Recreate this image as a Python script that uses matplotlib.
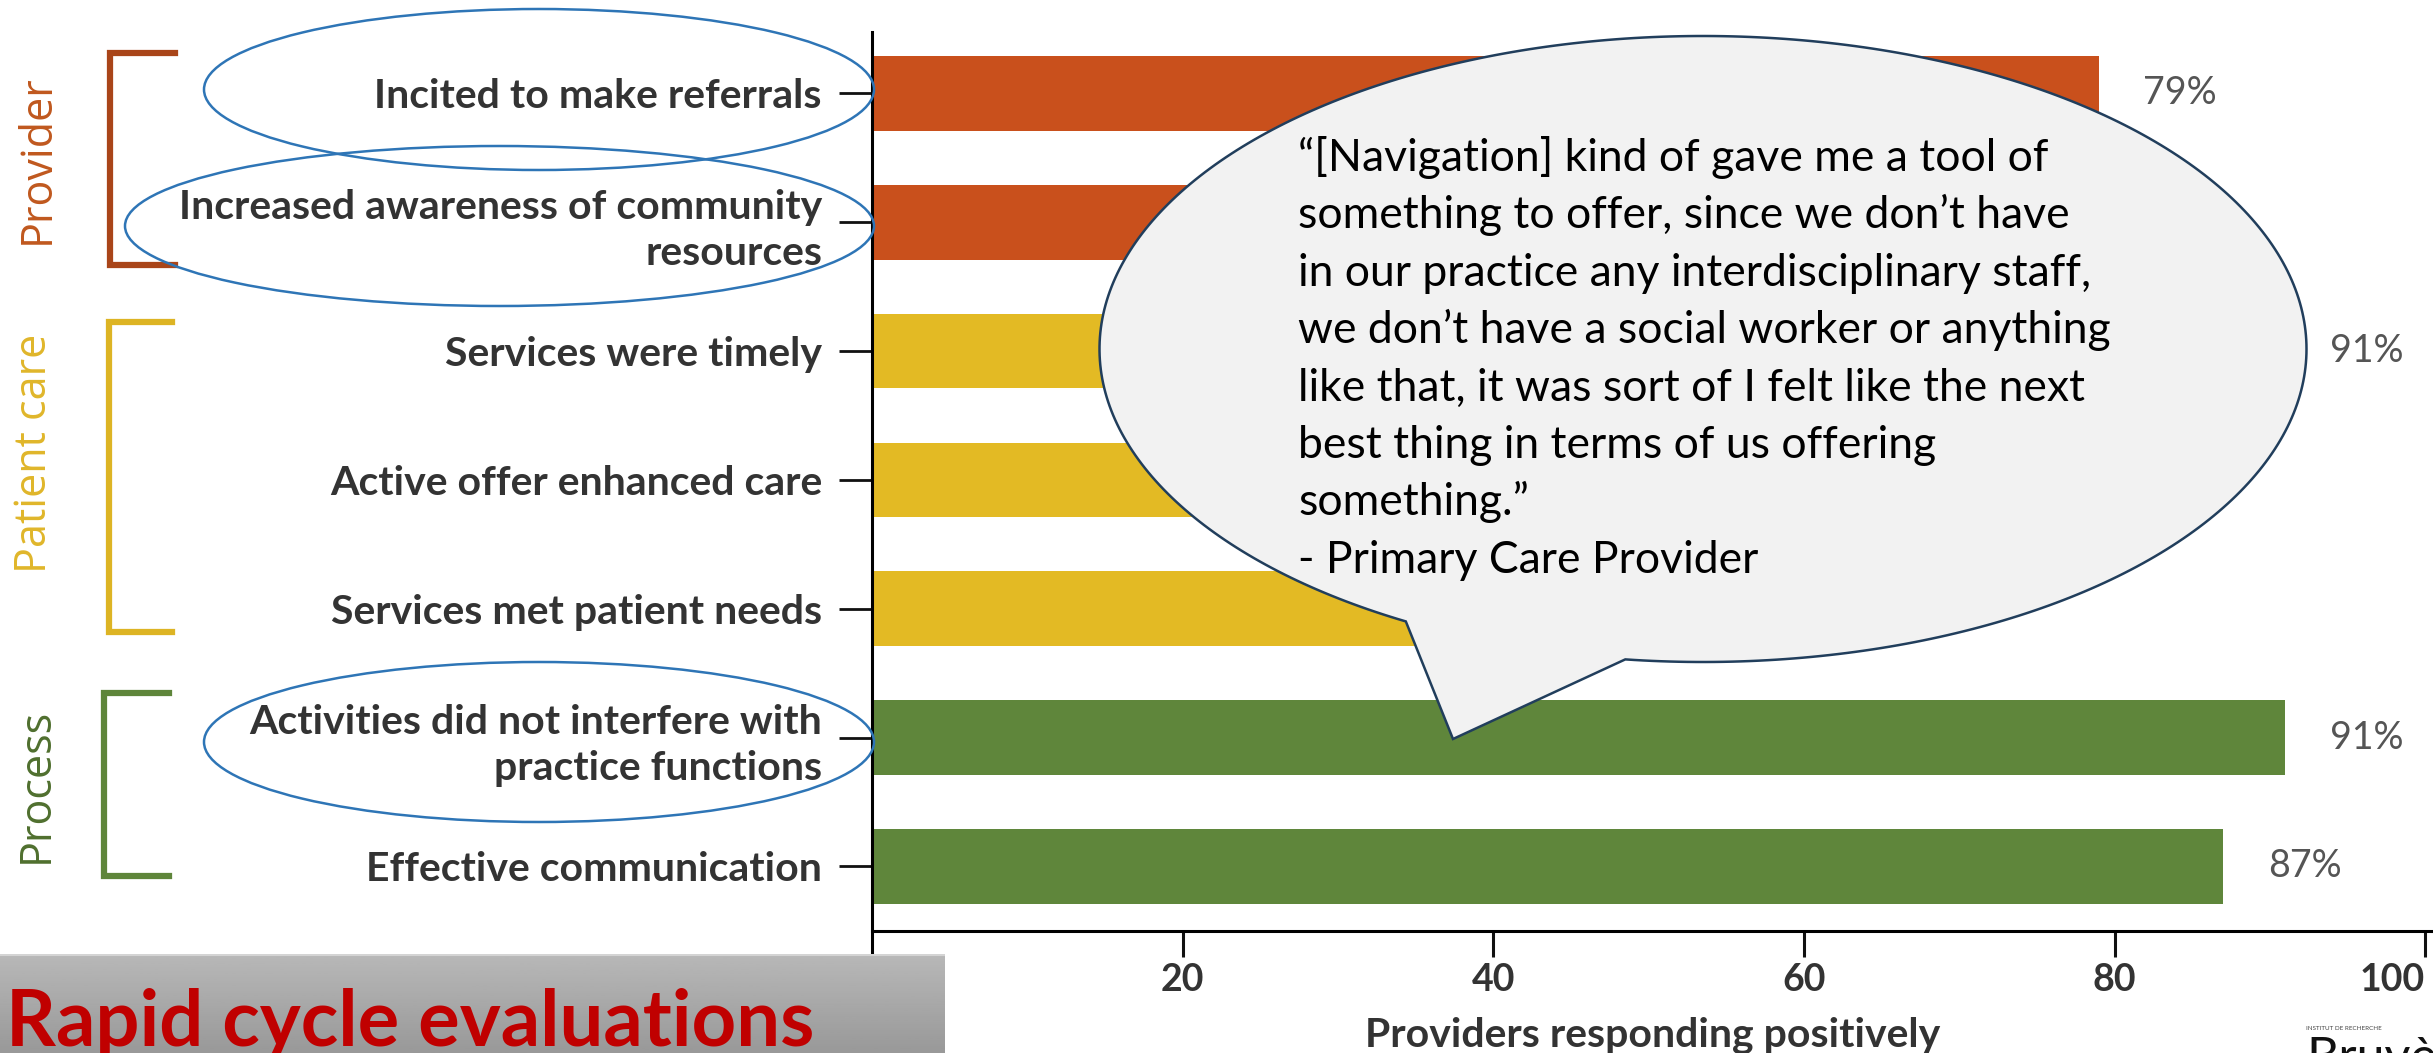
import numpy as np
import matplotlib
matplotlib.use("Agg")
import matplotlib.pyplot as plt
from matplotlib.patches import Ellipse, Polygon
from matplotlib.lines import Line2D
from matplotlib.transforms import Affine2D

# survey results (% of providers responding positively)
categories = [
    "Incited to make referrals",
    "Increased awareness of community\nresources",
    "Services were timely",
    "Active offer enhanced care",
    "Services met patient needs",
    "Activities did not interfere with\npractice functions",
    "Effective communication",
]
values = [79, 76, 91, 72, 62, 91, 87]
groups = ["Provider", "Provider", "Patient care", "Patient care", "Patient care",
          "Process", "Process"]
x_ticks = [20, 40, 60, 80, 100]

bar_colors = {"Provider": "#C9501C", "Patient care": "#E3BA24", "Process": "#5F863B"}
bracket_colors = {"Provider": "#A94519", "Patient care": "#DDB424", "Process": "#5E853A"}
label_colors = {"Provider": "#C0581E", "Patient care": "#E0B62A", "Process": "#4F6F2E"}

quote_lines = [
    "\u201c[Navigation] kind of gave me a tool of",
    "something to offer, since we don\u2019t have",
    "in our practice any interdisciplinary staff,",
    "we don\u2019t have a social worker or anything",
    "like that, it was sort of I felt like the next",
    "best thing in terms of us offering",
    "something.\u201d",
    "- Primary Care Provider",
]

W, H = 2433, 1053
fig = plt.figure(figsize=(W / 100, H / 100), dpi=100)
# pixel coordinates measured from the top-left corner
px = Affine2D().scale(1 / W, -1 / H).translate(0, 1) + fig.transFigure

ax = fig.add_axes([872 / W, 1 - 954 / H, (W - 872) / W, (954 - 32) / H])
# x axis line sits a little above the end of the y axis line
ax.spines["bottom"].set_position(("data", 6.5))
for s in ["top", "right"]:
    ax.spines[s].set_visible(False)
ax.spines["left"].set_linewidth(2.2)
ax.spines["bottom"].set_linewidth(2.2)

ypos = np.arange(len(categories))
ax.barh(ypos, values, height=0.58, color=[bar_colors[g] for g in groups], zorder=2)
for y, v in zip(ypos, values):
    ax.annotate(f"{v}%", (v, y), xytext=(32, 0), textcoords="offset points",
                ha="left", va="center", fontsize=27, family="Lato", color="#555555")

ax.set_xlim(0, 100.5)
ax.set_ylim(6.68, -0.477)
ax.set_yticks(ypos)
ax.set_yticklabels(categories, fontsize=29.5, family="Lato", fontweight="bold",
                   color="#333333", linespacing=1.3)
ax.set_xticks(x_ticks)
ax.set_xticklabels([str(t) for t in x_ticks], fontsize=27, family="Lato",
                   fontweight="bold", color="#333333")
# keep the last tick label inside the figure
ax.get_xticklabels()[-1].set_ha("right")
ax.tick_params(axis="y", length=24, width=2, pad=12, color="#111111")
ax.tick_params(axis="x", length=19, width=2.2, pad=4, color="#111111")
ax.set_xlabel("Providers responding positively", fontsize=29.5, family="Lato",
              fontweight="bold", color="#333333")
ax.xaxis.set_label_coords(0.5, -0.088)
ax.xaxis.label.set_va("center")

# group brackets and rotated group names
brackets = [("Provider", 110, 53, 265, 175, 49, 159),
            ("Patient care", 109, 322, 632, 172, 46, 453),
            ("Process", 104, 693, 876, 169, 48, 785)]
for name, bx, top, bot, arm, tx, ty in brackets:
    fig.add_artist(Line2D([arm, bx, bx, arm], [top, top, bot, bot], transform=px,
                          color=bracket_colors[name], lw=4.5, solid_joinstyle="miter"))
    fig.text(tx, ty, name, transform=px, rotation=90, rotation_mode="anchor",
             ha="center", va="baseline", fontsize=31, family="Open Sans",
             color=label_colors[name])

# highlight ovals around selected items
for cx, cy, w, h in [(539, 89.5, 670, 161), (499.5, 226, 749, 160), (539, 742, 670, 160)]:
    fig.add_artist(Ellipse((cx, cy), w, h, transform=px, fill=False,
                           edgecolor="#2E75B6", lw=1.8, zorder=6))

# speech bubble with quote
cx, cy, a, b = 1703, 349, 603.5, 313
t = np.deg2rad(np.linspace(119.5, 360 + 97.4, 400))
pts = np.column_stack([cx + a * np.cos(t), cy + b * np.sin(t)])
pts = np.vstack([pts, [1453, 739]])
fig.add_artist(Polygon(pts, closed=True, transform=px, facecolor="#F2F2F2",
                       edgecolor="#213E5C", lw=1.8, zorder=7))
for i, line in enumerate(quote_lines):
    fig.text(1298, 171 + i * 57.4, line, transform=px, ha="left", va="baseline",
             fontsize=32, family="Lato", color="black", zorder=8)

# title banner
bax = fig.add_axes([0, 0, 945 / W, (H - 954) / H], zorder=9)
grad = np.linspace(0.72, 0.6, 50).reshape(-1, 1)
bax.imshow(grad, cmap="gray", vmin=0, vmax=1, aspect="auto", extent=[0, 1, 0, 1])
bax.axhline(0.99, color="#D4D4D4", lw=1.5)
bax.set_axis_off()
bax.text(6 / 945, 1 - (1046 - 954) / 99, "Rapid cycle evaluations", transform=bax.transAxes,
         ha="left", va="baseline", fontsize=56, family="Lato", fontweight="bold",
         color="#C00000")

# partial logo in the corner
fig.text(2306, 1028, "INSTITUT DE RECHERCHE", transform=px, ha="left", va="center",
         fontsize=4.5, family="Lato", color="#444444")
fig.text(2306, 1036, "Bruy\u00e8re", transform=px, ha="left", va="top",
         fontsize=36, family="Lato", color="#111111")

fig.savefig("out.png", dpi=100)
